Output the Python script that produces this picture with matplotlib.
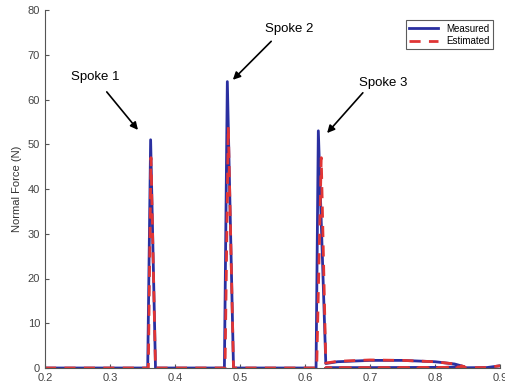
import numpy as np
import matplotlib
matplotlib.use("Agg")
import matplotlib.pyplot as plt

plt.rcParams['font.family'] = ['Liberation Sans', 'DejaVu Sans']

# wheel position vs normal force, one pass over three spokes
measured_x = [0.20, 0.300, 0.358, 0.3625, 0.370, 0.450, 0.476, 0.4805, 0.490, 0.560,
              0.617, 0.6205, 0.632, 0.650, 0.700, 0.750, 0.800, 0.830, 0.845,
              0.800, 0.700, 0.632, 0.800, 0.880, 0.900]
measured_f = [0.0, 0.0, 0.0, 51.0, 0.0, 0.0, 0.0, 64.0, 0.0, 0.0,
              0.0, 53.0, 1.0, 1.4, 1.7, 1.7, 1.4, 0.9, 0.3,
              0.05, 0.0, 0.0, 0.0, 0.1, 0.5]
estimated_x = [0.20, 0.300, 0.359, 0.3630, 0.370, 0.450, 0.477, 0.4820, 0.490, 0.560,
               0.618, 0.6250, 0.632, 0.650, 0.700, 0.750, 0.800, 0.830, 0.845,
               0.800, 0.700, 0.632, 0.800, 0.880, 0.900]
estimated_f = [0.0, 0.0, 0.0, 47.0, 0.0, 0.0, 0.0, 54.0, 0.0, 0.0,
               0.0, 47.0, 1.1, 1.5, 1.8, 1.7, 1.4, 0.9, 0.3,
               0.05, 0.0, 0.0, 0.0, 0.1, 0.5]

labels = ["Spoke 1", "Spoke 2", "Spoke 3"]
label_xy = [(0.277, 65.0), (0.575, 75.8), (0.72, 63.7)]
arrow_from = [(0.295, 61.7), (0.548, 73.0), (0.689, 61.5)]
arrow_to = [(0.343, 53.2), (0.489, 64.4), (0.634, 52.5)]

fig = plt.figure(figsize=(5.06, 3.86), dpi=100)
ax = fig.add_axes([45/506, 18/386, 455/506, 358/386])

ax.plot(measured_x, measured_f, color='#2a2fa0', lw=2.0, label='Measured')
ax.plot(estimated_x, estimated_f, color='#e03535', lw=2.0, ls=(0, (4, 3)), label='Estimated')

for lab, txy, a0, a1 in zip(labels, label_xy, arrow_from, arrow_to):
    ax.text(txy[0], txy[1], lab, ha='center', va='center', fontsize=9.5)
    ax.annotate('', xy=a1, xytext=a0,
                arrowprops=dict(arrowstyle='-|>', color='black', lw=1.2,
                                mutation_scale=11, shrinkA=0, shrinkB=0))

ax.set_xlim(0.2, 0.9)
ax.set_ylim(0, 80)
ax.set_xticks(np.arange(0.2, 0.91, 0.1))
ax.set_xticklabels(['0.2', '0.3', '0.4', '0.5', '0.6', '0.7', '0.8', '0.9'])
ax.set_yticks(np.arange(0, 81, 10))
ax.tick_params(direction='in', length=3, labelsize=8, labelcolor='#444444', color='#555555')
ax.spines['top'].set_visible(False)
ax.spines['right'].set_visible(False)
ax.spines['left'].set_color('#555555')
ax.spines['bottom'].set_color('#555555')
ax.set_ylabel('Normal Force (N)', fontsize=8, color='#333333', labelpad=4)

leg = ax.legend(loc='upper right', bbox_to_anchor=(0.995, 0.985), fontsize=7,
                frameon=True, fancybox=False, edgecolor='#333333',
                handlelength=3, borderpad=0.35, labelspacing=0.25)
leg.get_frame().set_linewidth(0.8)

fig.savefig('out.png', dpi=100)
